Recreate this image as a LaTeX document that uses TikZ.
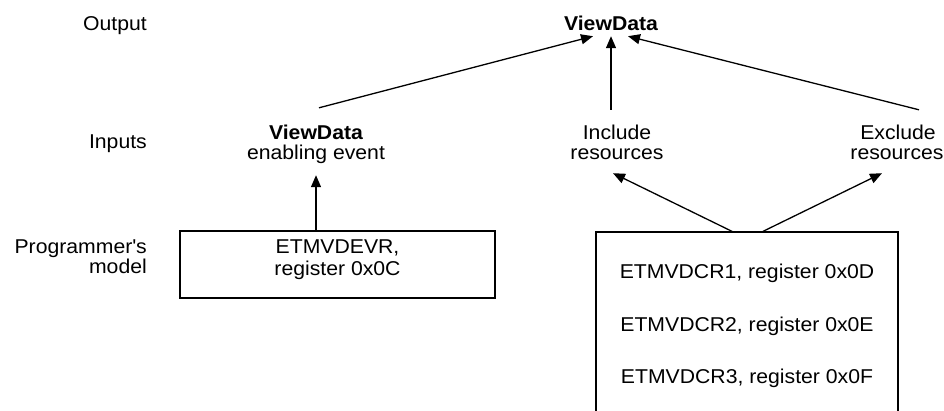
\documentclass[tikz,border=0pt]{standalone}
\usepackage{fontspec}
\setmainfont{Liberation Sans}[FakeStretch=1.06]
\usetikzlibrary{arrows.meta}
\newcommand{\straightquote}{\XeTeXglyph\XeTeXcharglyph"0027\relax}
\begin{document}
\begin{tikzpicture}[x=1pt,y=-1pt,
  txt/.style={font=\fontsize{20}{21}\selectfont, inner xsep=0pt, inner ysep=1pt,
              text height=15pt, text depth=5pt, anchor=base},
  lbl/.style={txt, anchor=base east},
  regbox/.style={draw, line width=1.3pt, rectangle, inner sep=0pt},
  arr/.style={line width=1.3pt, -{Triangle[length=12pt,width=10pt]}}]
\useasboundingbox (0,0) rectangle (944,410);
\clip (0,0) rectangle (944,410);
% row labels
\node[lbl] (outl) at (147,30) {Output};
\node[lbl] (inl) at (147,148) {Inputs};
\node[lbl] (pml1) at (147,253) {Programmer\straightquote s};
\node[lbl] (pml2) at (147,273) {model};
% output
\node[txt] (vd) at (611,30) {\bfseries ViewData};
% inputs
\node[txt] (vdin) at (316,139) {\bfseries ViewData};
\node[txt] (vdev) at (316,159) {enabling event};
\node[txt] (inc1) at (617,139) {Include};
\node[txt] (inc2) at (617,159) {resources};
\node[txt] (exc1) at (898,139) {Exclude};
\node[txt] (exc2) at (897,159) {resources};
% programmer's model boxes
\node[regbox, minimum width=315pt, minimum height=67pt] (evr) at (337.5,264.5) {};
\node[txt] (evrt1) at (337.5,253) {ETMVDEVR,};
\node[txt] (evrt2) at (337.5,275) {register 0x0C};
\node[regbox, minimum width=302pt, minimum height=190pt] (rbox) at (747,327) {};
\node[txt] (cr1) at (747,278) {ETMVDCR1, register 0x0D};
\node[txt] (cr2) at (747,331) {ETMVDCR2, register 0x0E};
\node[txt] (cr3) at (747,383) {ETMVDCR3, register 0x0F};
% connectors
\draw[arr] ([xshift=3pt,yshift=15pt]vdin.north) -- ([xshift=-18pt]vd.south);
\draw[arr] ([xshift=-6pt,yshift=13pt]inc1.north) -- (vd.south);
\draw[arr] ([xshift=21pt,yshift=13pt]exc1.north) -- ([xshift=17pt]vd.south);
\draw[arr] (evr.north -| vdev.south) -- ([yshift=-10pt]vdev.south);
\draw[arr] ([xshift=-15pt]rbox.north) -- ([xshift=-4pt,yshift=-8pt]inc2.south);
\draw[arr] ([xshift=16pt]rbox.north) -- ([xshift=-15pt,yshift=-8pt]exc2.south);
\end{tikzpicture}
\end{document}
